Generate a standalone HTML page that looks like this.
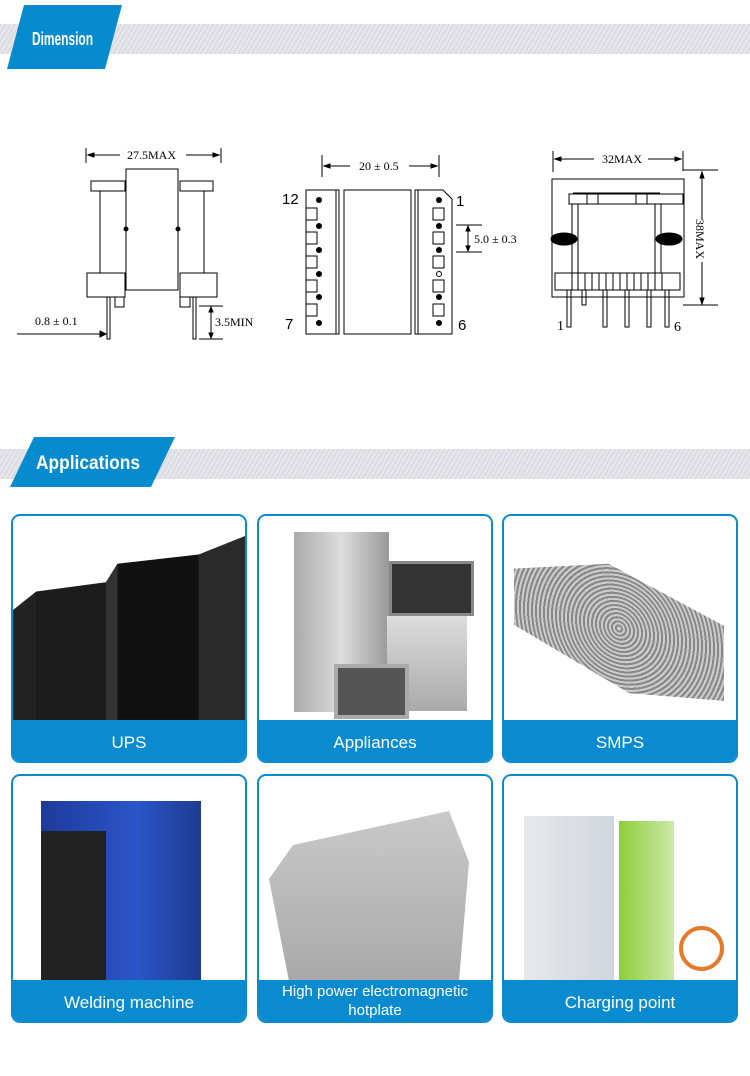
<!DOCTYPE html>
<html><head><meta charset="utf-8"><style>
*{margin:0;padding:0;box-sizing:border-box}
body{width:750px;height:1076px;background:#fff;position:relative;overflow:hidden;font-family:"Liberation Sans",sans-serif}
.band{position:absolute;left:0;width:750px;background:repeating-linear-gradient(-60deg,#e6e5ec 0 3px,#d6d5dd 3px 4px)}
.card{position:absolute;width:236px;height:249px;border:2px solid #0a8bcf;border-radius:9px;overflow:hidden;background:#fff}
.lab{position:absolute;left:0;right:0;bottom:0;height:41px;background:#0a8bcf;color:#fff;font-size:17px;display:flex;align-items:center;justify-content:center;text-align:center;line-height:19px;padding-top:4px}
.ph{position:absolute}
</style></head><body>
<div class="band" style="top:24px;height:30px"></div>
<svg style="position:absolute;left:0;top:0" width="200" height="80"><polygon points="24,5 122,5 105,69 7,69" fill="#078bcf"/><text x="32" y="45" fill="#fff" font-family="Liberation Sans Narrow,Liberation Sans,sans-serif" font-weight="bold" font-size="18" textLength="61" lengthAdjust="spacingAndGlyphs">Dimension</text></svg>

<svg style="position:absolute;left:0;top:0" width="750" height="420" font-family="Liberation Serif,serif" font-size="12" stroke="#000" fill="none" stroke-width="1">
<line x1="86" y1="148" x2="86" y2="163"/><line x1="221" y1="148" x2="221" y2="163"/>
<line x1="88" y1="155" x2="120" y2="155"/><line x1="186" y1="155" x2="219" y2="155"/>
<polygon points="88,155 94,153 94,157" fill="#000"/><polygon points="219,155 213,153 213,157" fill="#000"/>
<text x="127" y="159" stroke="none" fill="#000">27.5MAX</text>
<rect x="126" y="169" width="52" height="121"/>
<rect x="91" y="181" width="34" height="10"/><rect x="180" y="181" width="33" height="10"/>
<line x1="100" y1="191" x2="100" y2="273"/><line x1="204" y1="191" x2="204" y2="273"/>
<circle cx="126" cy="229" r="2" fill="#000"/><circle cx="178" cy="229" r="2" fill="#000"/>
<rect x="87" y="273" width="38" height="24"/><rect x="180" y="273" width="37" height="24"/>
<polyline points="115,297 115,307 124,307 124,297"/><polyline points="180,297 180,307 190,307 190,297"/>
<rect x="107" y="297" width="3" height="42"/><rect x="193" y="297" width="3" height="42"/>
<text x="35" y="325" stroke="none" fill="#000">0.8 ± 0.1</text>
<line x1="17" y1="334" x2="104" y2="334"/><polygon points="106,334 100,331 100,337" fill="#000"/>
<line x1="199" y1="306" x2="223" y2="306"/><line x1="199" y1="339" x2="223" y2="339"/>
<line x1="211" y1="308" x2="211" y2="337"/>
<polygon points="211,307 209,312 213,312" fill="#000"/><polygon points="211,338 209,333 213,333" fill="#000"/>
<text x="215" y="326" stroke="none" fill="#000">3.5MIN</text>
<line x1="322" y1="155" x2="322" y2="177"/><line x1="439" y1="155" x2="439" y2="177"/>
<line x1="324" y1="166" x2="350" y2="166"/><line x1="409" y1="166" x2="437" y2="166"/>
<polygon points="324,166 330,164 330,168" fill="#000"/><polygon points="437,166 431,164 431,168" fill="#000"/>
<text x="359" y="170" stroke="none" fill="#000">20 ± 0.5</text>
<rect x="306" y="190" width="33" height="144"/><line x1="336" y1="190" x2="336" y2="334"/>
<rect x="344" y="190" width="67" height="144"/>
<polygon points="415,190 443,190 452,199 452,334 415,334"/><line x1="418" y1="190" x2="418" y2="334"/>
<text x="282" y="204" font-family="Liberation Sans,sans-serif" font-size="15" stroke="none" fill="#000">12</text>
<text x="456" y="206" font-family="Liberation Sans,sans-serif" font-size="15" stroke="none" fill="#000">1</text>
<text x="285" y="329" font-family="Liberation Sans,sans-serif" font-size="15" stroke="none" fill="#000">7</text>
<text x="458" y="330" font-family="Liberation Sans,sans-serif" font-size="15" stroke="none" fill="#000">6</text>
<g fill="#000" stroke="none">
<circle cx="319" cy="200" r="3"/><circle cx="319" cy="226" r="3"/><circle cx="319" cy="250" r="3"/><circle cx="319" cy="274" r="3"/><circle cx="319" cy="297" r="3"/><circle cx="319" cy="323" r="3"/>
<circle cx="439" cy="200" r="3"/><circle cx="439" cy="226" r="3"/><circle cx="439" cy="250" r="3"/><circle cx="439" cy="297" r="3"/><circle cx="439" cy="323" r="3"/>
</g><circle cx="439" cy="274" r="2.5"/>
<g>
<rect x="306" y="208" width="11" height="12"/><rect x="306" y="232" width="11" height="12"/><rect x="306" y="256" width="11" height="12"/><rect x="306" y="280" width="11" height="12"/><rect x="306" y="304" width="11" height="12"/>
<rect x="433" y="208" width="11" height="12"/><rect x="433" y="232" width="11" height="12"/><rect x="433" y="256" width="11" height="12"/><rect x="433" y="280" width="11" height="12"/><rect x="433" y="304" width="11" height="12"/>
</g>
<line x1="456" y1="225" x2="482" y2="225"/><line x1="456" y1="252" x2="482" y2="252"/>
<line x1="468" y1="227" x2="468" y2="250"/>
<polygon points="468,226 466,231 470,231" fill="#000"/><polygon points="468,251 466,246 470,246" fill="#000"/>
<text x="474" y="243" stroke="none" fill="#000">5.0 ± 0.3</text>
<line x1="553" y1="151" x2="553" y2="172"/><line x1="683" y1="151" x2="683" y2="171"/>
<line x1="683" y1="170" x2="718" y2="170"/><line x1="683" y1="305" x2="718" y2="305"/>
<line x1="555" y1="159" x2="594" y2="159"/><line x1="648" y1="159" x2="681" y2="159"/>
<polygon points="555,159 561,157 561,161" fill="#000"/><polygon points="681,159 675,157 675,161" fill="#000"/>
<text x="602" y="163" stroke="none" fill="#000">32MAX</text>
<line x1="702" y1="172" x2="702" y2="220"/><line x1="702" y1="262" x2="702" y2="303"/>
<polygon points="702,172 700,178 704,178" fill="#000"/><polygon points="702,304 700,298 704,298" fill="#000"/>
<text x="0" y="0" stroke="none" fill="#000" transform="translate(696,219) rotate(90)">38MAX</text>
<rect x="552" y="179" width="132" height="118"/>
<rect x="569" y="194" width="114" height="10"/><line x1="573" y1="193" x2="660" y2="193"/>
<line x1="587" y1="194" x2="587" y2="204"/><line x1="598" y1="194" x2="598" y2="204"/><line x1="636" y1="194" x2="636" y2="204"/><line x1="647" y1="194" x2="647" y2="204"/>
<line x1="572" y1="204" x2="572" y2="273"/><line x1="578" y1="204" x2="578" y2="273"/><line x1="655" y1="204" x2="655" y2="273"/><line x1="661" y1="204" x2="661" y2="273"/>
<ellipse cx="564" cy="239" rx="13" ry="6" fill="#000"/><ellipse cx="669" cy="239" rx="13" ry="6" fill="#000"/>
<rect x="555" y="273" width="125" height="17"/>
<g><line x1="572" y1="273" x2="572" y2="290"/><line x1="578" y1="273" x2="578" y2="290"/><line x1="585" y1="273" x2="585" y2="290"/><line x1="592" y1="273" x2="592" y2="290"/><line x1="599" y1="273" x2="599" y2="290"/><line x1="606" y1="273" x2="606" y2="290"/><line x1="613" y1="273" x2="613" y2="290"/><line x1="620" y1="273" x2="620" y2="290"/><line x1="627" y1="273" x2="627" y2="290"/><line x1="634" y1="273" x2="634" y2="290"/><line x1="641" y1="273" x2="641" y2="290"/><line x1="648" y1="273" x2="648" y2="290"/><line x1="655" y1="273" x2="655" y2="290"/><line x1="662" y1="273" x2="662" y2="290"/></g>
<rect x="567" y="290" width="4" height="37"/><rect x="582" y="290" width="4" height="15"/><rect x="603" y="290" width="4" height="37"/><rect x="625" y="290" width="4" height="37"/><rect x="647" y="290" width="4" height="37"/><rect x="665" y="290" width="4" height="37"/>
<text x="557" y="330" font-size="14" stroke="none" fill="#000">1</text><text x="674" y="331" font-size="14" stroke="none" fill="#000">6</text>
</svg>

<div class="band" style="top:449px;height:30px"></div>
<svg style="position:absolute;left:0;top:430px" width="200" height="60"><polygon points="34,7 175,7 151,57 10,57" fill="#078bcf"/><text x="36" y="39" fill="#fff" font-family="Liberation Sans Narrow,Liberation Sans,sans-serif" font-weight="bold" font-size="19" textLength="104" lengthAdjust="spacingAndGlyphs">Applications</text></svg>

<div class="card" style="left:11px;top:514px"><div class="ph" style="left:0;top:20px;width:232px;height:185px;background:linear-gradient(90deg,#222 0 10%,#1c1c1c 10% 40%,#333 40% 45%,#111 45% 80%,#2a2a2a 80%);clip-path:polygon(0 40%,10% 30%,40% 25%,45% 15%,80% 10%,100% 0,100% 100%,0 100%)"></div><div class="lab">UPS</div></div>
<div class="card" style="left:257px;top:514px"><div class="ph" style="left:35px;top:16px;width:95px;height:180px;background:linear-gradient(90deg,#aaa,#ddd,#999)"></div><div class="ph" style="left:130px;top:45px;width:85px;height:55px;background:#333;border:3px solid #888"></div><div class="ph" style="left:128px;top:100px;width:80px;height:95px;background:linear-gradient(#ddd,#aaa)"></div><div class="ph" style="left:75px;top:148px;width:75px;height:55px;background:#555;border:4px solid #aaa"></div><div class="lab">Appliances</div></div>
<div class="card" style="left:502px;top:514px"><div class="ph" style="left:10px;top:50px;width:210px;height:125px;background:repeating-radial-gradient(circle at 50% 50%,#ccc 0 2px,#888 2px 4px);transform:skewY(12deg);clip-path:polygon(0 20%,45% 0,100% 30%,100% 90%,55% 100%,0 65%)"></div><div class="lab">SMPS</div></div>
<div class="card" style="left:11px;top:774px"><div class="ph" style="left:28px;top:25px;width:160px;height:180px;background:linear-gradient(90deg,#1c3b9c,#2b55c8 60%,#1d3c90)"></div><div class="ph" style="left:28px;top:55px;width:65px;height:150px;background:#222"></div><div class="lab">Welding machine</div></div>
<div class="card" style="left:257px;top:774px"><div class="ph" style="left:10px;top:35px;width:200px;height:170px;background:linear-gradient(#c9c9c9,#a9a9a9);clip-path:polygon(12% 20%,90% 0,100% 30%,95% 100%,10% 100%,0 40%)"></div><div class="lab" style="font-size:15px;padding-top:0">High power electromagnetic<br>hotplate</div></div>
<div class="card" style="left:502px;top:774px"><div class="ph" style="left:20px;top:40px;width:90px;height:165px;background:linear-gradient(90deg,#e8e8e8,#cfd6dd)"></div><div class="ph" style="left:115px;top:45px;width:55px;height:160px;background:linear-gradient(90deg,#8ccf3a,#cde8a8)"></div><div class="ph" style="left:175px;top:150px;width:45px;height:45px;border:4px solid #e57a2a;border-radius:50%"></div><div class="lab">Charging point</div></div>
</body></html>
